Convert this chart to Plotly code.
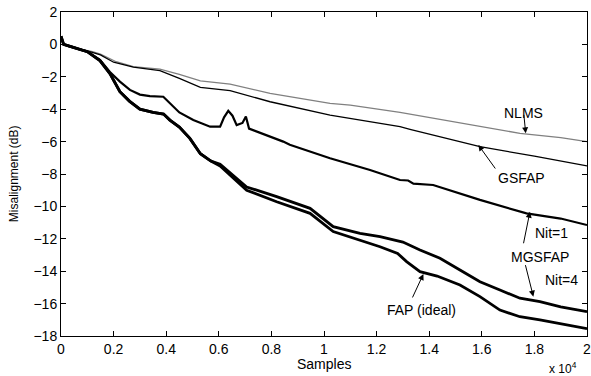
import plotly.graph_objects as go

# x in units of 10^4 samples, y in dB
nlms_x = [0, 0.01, 0.03, 0.08, 0.12, 0.15, 0.21, 0.275, 0.376, 0.45, 0.53, 0.643, 0.795, 1.023, 1.1, 1.289, 1.5, 1.745, 1.9, 2.0]
nlms_y = [0.5, 0.0, -0.15, -0.3, -0.45, -0.6, -1.07, -1.37, -1.52, -1.85, -2.25, -2.45, -3.02, -3.64, -3.75, -4.19, -4.8, -5.49, -5.75, -6.0]

gsfap_x = [0, 0.01, 0.05, 0.1, 0.15, 0.2, 0.275, 0.376, 0.45, 0.53, 0.643, 0.795, 1.023, 1.1, 1.289, 1.327, 1.593, 1.8, 2.0]
gsfap_y = [0.5, 0.0, -0.2, -0.4, -0.65, -1.1, -1.4, -1.62, -2.1, -2.65, -2.85, -3.54, -4.36, -4.56, -5.08, -5.24, -6.31, -6.9, -7.5]

nit1_x = [0, 0.01, 0.05, 0.1, 0.148, 0.186, 0.224, 0.262, 0.30, 0.338, 0.389, 0.42, 0.45, 0.503, 0.567, 0.605, 0.62, 0.636, 0.652, 0.668, 0.69, 0.703, 0.715, 0.845, 0.87, 1.023, 1.175, 1.289, 1.32, 1.34, 1.415, 1.593, 1.77, 1.9, 2.0]
nit1_y = [0.5, 0.0, -0.2, -0.45, -0.96, -1.7, -2.3, -2.81, -3.1, -3.19, -3.23, -3.7, -4.2, -4.67, -5.08, -5.08, -4.5, -4.1, -4.4, -4.98, -4.85, -4.45, -5.2, -6.0, -6.2, -7.03, -7.75, -8.37, -8.4, -8.6, -8.68, -9.6, -10.43, -10.75, -11.15]

nit4_x = [0, 0.01, 0.05, 0.1, 0.148, 0.186, 0.224, 0.26, 0.30, 0.35, 0.39, 0.414, 0.45, 0.49, 0.53, 0.57, 0.605, 0.69, 0.706, 0.82, 0.947, 1.035, 1.137, 1.213, 1.30, 1.365, 1.441, 1.517, 1.593, 1.669, 1.745, 1.821, 1.9, 2.0]
nit4_y = [0.5, 0.0, -0.2, -0.45, -1.0, -1.8, -2.92, -3.5, -4.0, -4.2, -4.3, -4.67, -5.1, -5.8, -6.75, -7.2, -7.4, -8.6, -8.8, -9.4, -10.12, -11.25, -11.66, -11.87, -12.2, -12.69, -13.2, -13.93, -14.65, -15.16, -15.67, -15.88, -16.2, -16.5]

fap_x = [0, 0.01, 0.05, 0.1, 0.148, 0.186, 0.224, 0.26, 0.30, 0.35, 0.39, 0.414, 0.45, 0.49, 0.53, 0.57, 0.605, 0.69, 0.706, 0.82, 0.947, 1.035, 1.137, 1.213, 1.28, 1.314, 1.365, 1.43, 1.517, 1.593, 1.669, 1.745, 1.821, 1.9, 2.0]
fap_y = [0.5, 0.0, -0.2, -0.45, -1.0, -1.8, -2.92, -3.5, -4.0, -4.2, -4.3, -4.67, -5.1, -5.8, -6.75, -7.2, -7.5, -8.75, -9.0, -9.71, -10.43, -11.55, -12.07, -12.49, -12.9, -13.41, -14.03, -14.3, -14.85, -15.57, -16.4, -16.81, -17.01, -17.25, -17.55]

x_ticks = [0, 0.2, 0.4, 0.6, 0.8, 1.0, 1.2, 1.4, 1.6, 1.8, 2.0]
x_tick_labels = ["0", "0.2", "0.4", "0.6", "0.8", "1", "1.2", "1.4", "1.6", "1.8", "2"]
y_ticks = [-18, -16, -14, -12, -10, -8, -6, -4, -2, 0, 2]

FONT = "Liberation Sans, Arial, sans-serif"

fig = go.Figure()
fig.add_trace(go.Scatter(x=nlms_x, y=nlms_y, mode="lines", line=dict(color="#808080", width=1.3), name="NLMS"))
fig.add_trace(go.Scatter(x=gsfap_x, y=gsfap_y, mode="lines", line=dict(color="black", width=1.3), name="GSFAP"))
fig.add_trace(go.Scatter(x=nit1_x, y=nit1_y, mode="lines", line=dict(color="black", width=2.2), name="MGSFAP Nit=1"))
fig.add_trace(go.Scatter(x=nit4_x, y=nit4_y, mode="lines", line=dict(color="black", width=2.8), name="MGSFAP Nit=4"))
fig.add_trace(go.Scatter(x=fap_x, y=fap_y, mode="lines", line=dict(color="black", width=2.8), name="FAP (ideal)"))

labels = [
    ("NLMS", 1.757, -4.23),
    ("GSFAP", 1.752, -8.23),
    ("Nit=1", 1.866, -11.66),
    ("MGSFAP", 1.821, -13.10),
    ("Nit=4", 1.904, -14.54),
    ("FAP (ideal)", 1.372, -16.40),
]
for t, x, y in labels:
    fig.add_annotation(x=x, y=y, text=t, showarrow=False, font=dict(family=FONT, size=14, color="black"),
                       xanchor="center", yanchor="middle")

# arrows: (head x, head y, tail dx px, tail dy px)
arrows = [
    (1.767, -5.49, -2, -20),
    (1.587, -6.21, 18, 25),
    (1.783, -10.33, -6.7, 33),
    (1.796, -15.57, -8.3, -33),
    (1.378, -14.17, -11.6, 25),
]
for x, y, dx, dy in arrows:
    fig.add_annotation(x=x, y=y, ax=dx, ay=dy, text="", showarrow=True, arrowhead=2, arrowsize=1.2,
                       arrowwidth=1, arrowcolor="black", standoff=0, startstandoff=0)

fig.add_annotation(xref="paper", yref="paper", x=0.5, y=-0.086, text="Samples", showarrow=False,
                   font=dict(family=FONT, size=14, color="black"), xanchor="center", yanchor="middle")
fig.add_annotation(xref="paper", yref="paper", x=0.955, y=-0.1, text="x 10<sup>4</sup>", showarrow=False,
                   font=dict(family=FONT, size=12, color="black"), xanchor="center", yanchor="middle")
fig.add_annotation(xref="paper", yref="paper", x=-0.089, y=0.5, text="Misalignment (dB)", showarrow=False,
                   textangle=-90, font=dict(family=FONT, size=12, color="black"), xanchor="center", yanchor="middle")

axis_common = dict(showline=True, linecolor="black", linewidth=1, mirror="ticks", ticks="inside", ticklen=5,
                   tickcolor="black", showgrid=False, zeroline=False, automargin=False,
                   ticklabeloverflow="allow",
                   tickfont=dict(family=FONT, size=14, color="black"))
fig.update_xaxes(range=[0, 2], tickvals=x_ticks, ticktext=x_tick_labels, **axis_common)
fig.update_yaxes(range=[-18, 2], tickvals=y_ticks, **axis_common)

fig.update_layout(width=591, height=376, margin=dict(l=61, r=4, t=12, b=40, autoexpand=False),
                  paper_bgcolor="white", plot_bgcolor="white", showlegend=False,
                  font=dict(family=FONT, color="black"))
# remove the default page margin so the figure sits at the window's top-left corner
fig.write_html("out.html", config={"displayModeBar": False},
               post_script="document.body.style.margin='0';document.body.style.overflow='hidden';")
